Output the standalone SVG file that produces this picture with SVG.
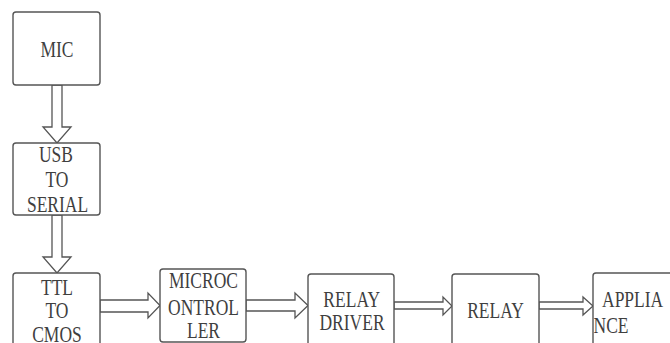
<svg xmlns="http://www.w3.org/2000/svg" width="670" height="343" viewBox="0 0 670 343">
<style>
.box{fill:#fff;stroke:#555;stroke-width:1.4}
.arr{fill:#fff;stroke:#555;stroke-width:1.3;stroke-linejoin:miter}
text{font-family:'Liberation Serif',serif;font-size:17.5px;fill:#3f3f3f}
.t{text-anchor:middle}
</style>
<rect width="670" height="343" fill="#fff"/>
<g id="connectors">
<polygon class="arr" points="52,85 52,127 43,127 57,143 71,127 62,127 62,85"/>
<polygon class="arr" points="52,215 52,257 43,257 57,273 71,257 62,257 62,215"/>
<polygon class="arr" points="100,300 148,300 148,293 160,305.5 148,318 148,312 100,312"/>
<polygon class="arr" points="246,300 295,300 295,293 308,305.5 295,318 295,311 246,311"/>
<polygon class="arr" points="394,302 443,302 443,297 452,306 443,315 443,309 394,309"/>
<polygon class="arr" points="539,302 583,302 583,297 593,306 583,315 583,309 539,309"/>
</g>
<g id="mic">
<rect class="box" x="13" y="12" width="87" height="73" rx="3"/>
<text class="t" font-family="Liberation Serif, serif" transform="matrix(1 0 0 1.3 57 56.5)">MIC</text>
</g>
<g id="usb">
<rect class="box" x="13" y="143" width="87" height="72" rx="3"/>
<text class="t" transform="matrix(1 0 0 1.3 56 161.5)">USB</text>
<text class="t" transform="matrix(1 0 0 1.3 57 186.5)">TO</text>
<text class="t" transform="matrix(1 0 0 1.3 57.5 211.5)">SERIAL</text>
</g>
<g id="ttl">
<rect class="box" x="13" y="273" width="87" height="80" rx="3"/>
<text class="t" transform="matrix(1 0 0 1.3 57 295)">TTL</text>
<text class="t" transform="matrix(1 0 0 1.3 57 318.3)">TO</text>
<text class="t" transform="matrix(1 0 0 1.3 57 342)">CMOS</text>
</g>
<g id="micro">
<rect class="box" x="160" y="269" width="86" height="73" rx="3"/>
<text class="t" transform="matrix(1 0 0 1.3 203.5 288.3)">MICROC</text>
<text class="t" transform="matrix(1 0 0 1.3 203.5 315)">ONTROL</text>
<text class="t" transform="matrix(1 0 0 1.3 203.5 338)">LER</text>
</g>
<g id="relaydriver">
<rect class="box" x="308" y="274" width="86" height="80" rx="3"/>
<text class="t" transform="matrix(1 0 0 1.3 351.7 306.7)">RELAY</text>
<text class="t" transform="matrix(1 0 0 1.3 352 330)">DRIVER</text>
</g>
<g id="relay">
<rect class="box" x="452" y="274" width="87" height="80" rx="3"/>
<text class="t" transform="matrix(1 0 0 1.3 495.5 318.3)">RELAY</text>
</g>
<g id="appliance">
<rect class="box" x="593" y="273" width="90" height="80" rx="3"/>
<text transform="matrix(1 0 0 1.3 602 307)">APPLIA</text>
<text transform="matrix(1 0 0 1.3 593.5 333)">NCE</text>
</g>
</svg>
